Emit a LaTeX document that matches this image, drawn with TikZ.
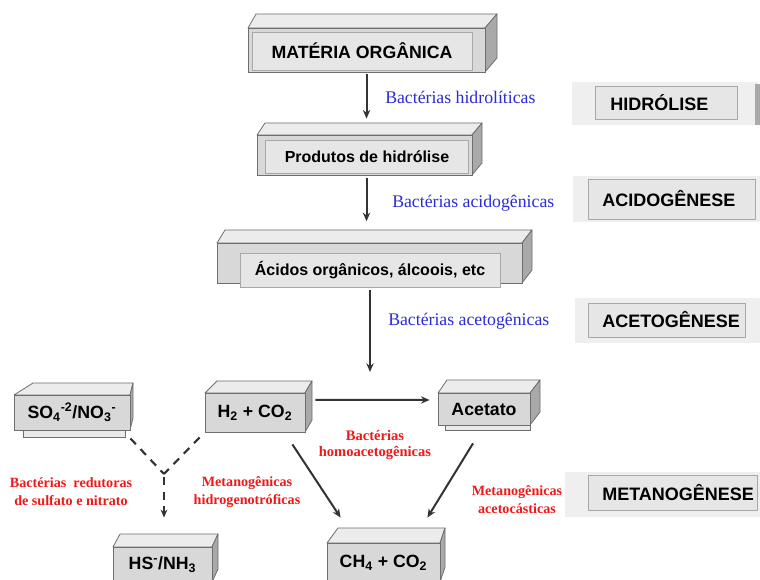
\documentclass[tikz,border=0pt]{standalone}
\usepackage{fontspec}
\setmainfont{Liberation Serif}
\setsansfont{Liberation Sans}
\usetikzlibrary{arrows.meta}
\definecolor{topc}{HTML}{ECECEC}
\definecolor{sidec}{HTML}{A9A9A9}
\definecolor{frontc}{HTML}{D8D8D8}
\definecolor{innerc}{HTML}{E6E6E6}
\definecolor{innerb}{HTML}{A8A8A8}
\definecolor{edgec}{HTML}{6E6E6E}
\definecolor{shadc}{HTML}{EAEAEA}
\definecolor{stageo}{HTML}{EFEFEF}
\definecolor{arrc}{HTML}{333333}
\definecolor{bluec}{HTML}{2B2BD9}
\definecolor{redc}{HTML}{F01818}
\newcommand\cubo[9]{%
  \path[topface] (#2,#3) -- ({#2+#6},{#3-#8}) -- ({#4+#7},{#3-#8}) -- (#4,#3) -- cycle;
  \path[sideface] (#4,#3) -- ({#4+#7},{#3-#8}) -- ({#4+#7},{#5-#8}) -- (#4,#5) -- cycle;
  \node[frontface, bigtxt, minimum width={(#4-#2)*0.75pt}, minimum height={(#5-#3)*0.75pt}] (#1) at ({(#2+#4)/2},{(#3+#5)/2}) {#9};
}
\begin{document}
\begin{tikzpicture}[x=0.75pt,y=-0.75pt,
  topface/.style={fill=topc, draw=edgec, line width=0.6pt, line join=round},
  sideface/.style={fill=sidec, draw=edgec, line width=0.6pt, line join=round},
  frontface/.style={fill=frontc, draw=edgec, line width=0.6pt, inner sep=0pt},
  innerface/.style={fill=innerc, draw=innerb, line width=0.5pt, inner sep=0pt},
  bigtxt/.style={font=\sffamily\bfseries\fontsize{13.3}{16}\selectfont, text=black},
  medtxt/.style={font=\sffamily\bfseries\fontsize{12}{14}\selectfont, text=black},
  bluetxt/.style={font=\fontsize{13.3}{16}\selectfont, text=bluec, anchor=west, inner sep=0pt},
  redtxt/.style={font=\bfseries\fontsize{10.6}{13.5}\selectfont, text=redc, align=center, inner sep=0pt},
  stagetxt/.style={font=\sffamily\bfseries\fontsize{13.5}{16}\selectfont, anchor=west, inner sep=0pt},
  stagein/.style={fill=innerc, draw=innerb, line width=0.5pt},
  arr/.style={draw=arrc, line width=1.5pt, -{Stealth[length=6.5pt,width=5.5pt]}},
  dsh/.style={draw=arrc, line width=1.6pt, dash pattern=on 6pt off 5pt}
]
\useasboundingbox (0,0) rectangle (760,580);
\fill[white] (0,0) rectangle (760,580);

% --- top three boxes
\cubo{mo}{248}{28}{485}{72}{8}{12}{14}{}
\node[innerface, bigtxt, minimum width={220*0.75pt}, minimum height={38*0.75pt}] (mot) at (362,51) {MATÉRIA ORGÂNICA};

\cubo{ph}{257}{135}{472}{175}{8}{10}{12}{}
\node[innerface, medtxt, minimum width={203*0.75pt}, minimum height={33*0.75pt}] (pht) at (367,156.5) {Produtos de hidrólise};

\cubo{ac}{217}{243}{522}{283}{8}{10}{13}{}
\node[innerface, medtxt, minimum width={260*0.75pt}, minimum height={34*0.75pt}] (act) at (370,270) {Ácidos orgânicos, álcoois, etc};

% --- vertical arrows
\draw[arr, shorten <=1.5pt, shorten >=12pt] (mo.south) -- (mo.south |- ph.north);
\draw[arr, shorten <=2pt, shorten >=16pt] (ph.south -| mo.south) -- (ac.north -| mo.south);
\coordinate (c3) at (370,372);
\draw[arr, shorten <=5pt] (ac.south -| c3) -- (c3);

% --- blue labels
\node[bluetxt] (b1) at (385,97) {Bactérias hidrolíticas};
\node[bluetxt] (b2) at (392,203) {Bactérias acidogênicas};
\node[bluetxt] (b3) at (388,321) {Bactérias acetogênicas};

% --- stage boxes
\fill[stageo] (572,82) rectangle (758,125);
\fill[sidec] (755,84) rectangle (760,125);
\draw[stagein] (595,86) rectangle (737,119);
\node[stagetxt] (hid) at (610,102.5) {HIDRÓLISE};

\fill[stageo] (573,176) rectangle (760,222);
\draw[stagein] (588,179) rectangle (755,219);
\node[stagetxt] (acd) at (602,199) {ACIDOGÊNESE};

\fill[stageo] (575,298) rectangle (760,343);
\draw[stagein] (588,303) rectangle (745,337);
\node[stagetxt] (acg) at (602,320) {ACETOGÊNESE};

\fill[stageo] (565,472) rectangle (760,517);
\draw[stagein] (588,475) rectangle (757,510);
\node[stagetxt] (met) at (602,493) {METANOGÊNESE};

% --- lower boxes
\path[fill=shadc, draw=edgec, line width=0.5pt] (23,428) rectangle (125,437);
\cubo{so}{14}{395}{130}{430}{19}{3}{12}{SO\textsubscript{4}\textsuperscript{-2}/NO\textsubscript{3}\textsuperscript{-}}
\cubo{h2}{205}{393}{305}{432}{12}{7}{12}{H\textsubscript{2} + CO\textsubscript{2}}
\path[fill=shadc, draw=edgec, line width=0.5pt] (445,423) rectangle (530,430);
\cubo{at}{438}{393}{530}{425}{9}{10}{13}{Acetato}
\cubo{hs}{113}{547}{212}{582}{7}{6}{13}{HS\textsuperscript{-}/NH\textsubscript{3}}
\cubo{ch}{327}{543}{440}{582}{11}{5}{15}{CH\textsubscript{4} + CO\textsubscript{2}}

% --- lower connectors
\draw[arr, shorten <=7.5pt, shorten >=6pt] ([yshift=9.4pt]h2.east) -- ([yshift=6.75pt]at.west);
\draw[arr] ([shift={(-13,12)}]h2.south east) -- ([shift={(14,-25)}]ch.north west);
\draw[arr] ([shift={(-11,18)}]at.south) -- ([shift={(-13,-25)}]ch.north east);

\coordinate (j) at (164,474);
\draw[dsh] ([shift={(0,8)}]so.south east) -- (j);
\draw[dsh] ([shift={(-5,5)}]h2.south west) -- (j);
\draw[dsh, -{Stealth[length=6pt,width=5pt]}, shorten >=21.75pt] ([shift={(0,3)}]j) -- (j |- hs.north);

% --- red labels
\node[redtxt] (r1) at (71,492) {Bactérias~ redutoras\\de sulfato e nitrato};
\node[redtxt] (r2) at (247,492) {Metanogênicas\\hidrogenotróficas};
\node[redtxt, font=\bfseries\fontsize{10.9}{12}\selectfont] (r3) at (375,445) {Bactérias\\homoacetogênicas};
\node[redtxt] (r4) at (517,500) {Metanogênicas\\acetocásticas};
\end{tikzpicture}
\end{document}
